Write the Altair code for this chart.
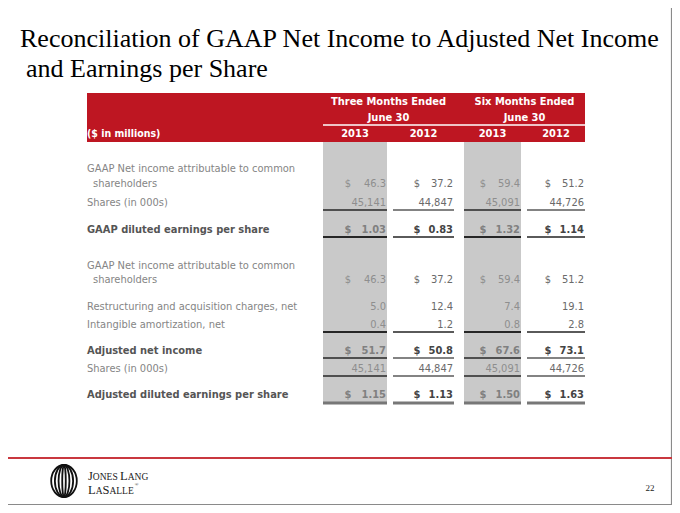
import altair as alt
import pandas as pd

# ------------------------------------------------------------------ data
title_lines = ["Reconciliation of GAAP Net Income to Adjusted Net Income",
               "and Earnings per Share"]
period_groups = ["Three Months Ended", "Six Months Ended"]
period_sub = "June 30"
years = ["2013", "2012", "2013", "2012"]
unit_label = "($ in millions)"

label_lines = [
    "GAAP Net income attributable to common", "shareholders",
    "Shares (in 000s)",
    "GAAP diluted earnings per share",
    "GAAP Net income attributable to common", "shareholders",
    "Restructuring and acquisition charges, net",
    "Intangible amortization, net",
    "Adjusted net income",
    "Shares (in 000s)",
    "Adjusted diluted earnings per share",
]
label_bold = [False, False, False, True, False, False, False, False, True, False, True]

three_2013 = [46.3, 45141, 1.03, 46.3, 5.0, 0.4, 51.7, 45141, 1.15]
three_2012 = [37.2, 44847, 0.83, 37.2, 12.4, 1.2, 50.8, 44847, 1.13]
six_2013 = [59.4, 45091, 1.32, 59.4, 7.4, 0.8, 67.6, 45091, 1.50]
six_2012 = [51.2, 44726, 1.14, 51.2, 19.1, 2.8, 73.1, 44726, 1.63]
row_kind = ["money", "shares", "eps", "money", "plain", "plain", "money", "shares", "eps"]
row_bold = [False, False, True, False, False, False, True, False, True]

# logo words in small caps: (segment, is_capital)
logo_line1 = [("J", True), ("ONES", False), (" ", False), ("L", True), ("ANG", False)]
logo_line2 = [("L", True), ("A", False), ("S", True), ("ALLE", False)]
logo_mark = "\u00ae"
page_number = "22"

# ------------------------------------------------------------------ layout
W, H = 664, 497
X0, Y0 = 8, 8
xs = alt.Scale(domain=[X0, X0 + W], nice=False, zero=False)
ys = alt.Scale(domain=[Y0 + H, Y0], nice=False, zero=False)

SANS = "DejaVu Sans Condensed, Liberation Sans, sans-serif"
SERIF = "Liberation Serif, Times New Roman, serif"
RED = "#BE1622"
GRAY_COL = "#C9C9C9"
FS = 11

label_x = [87, 93, 87, 87, 87, 93, 87, 87, 87, 87, 87]
label_y = [169, 184, 203, 230, 266, 280, 307, 325, 351, 369, 395]
value_y = [184, 203, 230, 280, 307, 325, 351, 369, 395]
col_left = [323, 393, 464, 527]
col_right = [387, 454, 521, 585]
col_dollar = [348, 417, 483, 548]
col_shaded = [True, False, True, False]
underline_y = [210, 237, 332, 358, 376]
underline_w = [1.5, 2.0, 2.0, 1.5, 1.5]
final_line_y = 403

# Times-like advance widths (per em) for the logo's small caps
SERIF_W = {"J": 0.389, "O": 0.722, "N": 0.722, "E": 0.611, "S": 0.556, " ": 0.25,
           "L": 0.611, "A": 0.722, "G": 0.722}
CAP_FS, SC_FS = 12.5, 9.5


def X(f="x"):
    return alt.X(f"{f}:Q", scale=xs, axis=None)


def Y(f="y"):
    return alt.Y(f"{f}:Q", scale=ys, axis=None)


def texts(rows, align="left", weight="normal", size=FS, font=SANS, baseline="middle"):
    df = pd.DataFrame(rows, columns=["x", "y", "t", "c"])
    return alt.Chart(df).mark_text(
        align=align, baseline=baseline, fontWeight=weight, fontSize=size, font=font
    ).encode(x=X(), y=Y(), text="t:N", color=alt.Color("c:N", scale=None))


def rects(rows):
    df = pd.DataFrame(rows, columns=["x", "x2", "y", "y2", "c"])
    return alt.Chart(df).mark_rect().encode(
        x=X(), x2="x2:Q", y=Y(), y2="y2:Q", color=alt.Color("c:N", scale=None))


def hrules(rows, width):
    df = pd.DataFrame(rows, columns=["x", "x2", "y", "c"])
    return alt.Chart(df).mark_rule(strokeWidth=width).encode(
        x=X(), x2="x2:Q", y=Y(), color=alt.Color("c:N", scale=None))


def vrules(rows, width):
    df = pd.DataFrame(rows, columns=["x", "y", "y2", "c"])
    return alt.Chart(df).mark_rule(strokeWidth=width).encode(
        x=X(), y=Y(), y2="y2:Q", color=alt.Color("c:N", scale=None))


layers = []

# slide frame (right & bottom visible inside page)
layers.append(vrules([[671.5, 5, 505, "#8a8a8a"]], 1.2))
layers.append(hrules([[6, 672, 504.5, "#8a8a8a"]], 1.2))

# title
layers.append(texts([[20, 47, title_lines[0], "#000000"],
                     [26, 77, title_lines[1], "#000000"]],
                    size=26, font=SERIF, baseline="alphabetic"))

# header band
layers.append(rects([[87, 585, 93, 142, RED]]))
layers.append(rects([[col_left[i], col_right[i], 142, 404, GRAY_COL]
                     for i in range(4) if col_shaded[i]]))
layers.append(hrules([[323, 585, 125, "#ffffff"]], 1.5))
grp_centers = [(col_left[0] + col_right[1]) / 2, (col_left[2] + col_right[3]) / 2]
head = []
for g, cx in zip(period_groups, grp_centers):
    head.append([cx, 102, g, "#ffffff"])
    head.append([cx, 118, period_sub, "#ffffff"])
for i, yr in enumerate(years):
    head.append([(col_left[i] + col_right[i]) / 2, 134, yr, "#ffffff"])
layers.append(texts(head, align="center", weight="bold", size=11))
layers.append(texts([[87, 134, unit_label, "#ffffff"]], weight="bold", size=10.5))

# row labels
lab_n, lab_b = [], []
for x, y, t, b in zip(label_x, label_y, label_lines, label_bold):
    (lab_b if b else lab_n).append([x, y, t, "#555555" if b else "#858585"])
layers.append(texts(lab_n))
layers.append(texts(lab_b, weight="bold"))

# values
series = [three_2013, three_2012, six_2013, six_2012]
num_n, num_b, dol_n, dol_b = [], [], [], []
for r, (kind, bold, y) in enumerate(zip(row_kind, row_bold, value_y)):
    for c, s in enumerate(series):
        v = s[r]
        if kind == "shares":
            txt = f"{int(v):,}"
        elif kind == "eps":
            txt = f"{v:.2f}"
        else:
            txt = f"{v:.1f}"
        if col_shaded[c]:
            col = "#8e8e8e" if not bold else "#808080"
        else:
            col = "#6a6a6a" if not bold else "#444444"
        (num_b if bold else num_n).append([col_right[c] - 1, y, txt, col])
        if kind in ("money", "eps"):
            (dol_b if bold else dol_n).append([col_dollar[c], y, "$", col])
layers.append(texts(num_n, align="right"))
layers.append(texts(num_b, align="right", weight="bold"))
layers.append(texts(dol_n, align="center"))
layers.append(texts(dol_b, align="center", weight="bold"))

# underlines
for uy, uw in zip(underline_y, underline_w):
    layers.append(hrules([[col_left[c], col_right[c], uy,
                           "#262626" if col_shaded[c] else "#5a5a5a"] for c in range(4)], uw))
layers.append(hrules([[col_left[c], col_right[c], final_line_y, "#777777"] for c in range(4)], 3))

# footer
layers.append(hrules([[6, 672, 458, "#C9383F"]], 2))
ring_rx = [0.8, 0.57, 0.34, 0.11]
for rx in ring_rx:
    path = f"M0,-1A{rx},1 0 1,1 0,1A{rx},1 0 1,1 0,-1Z"
    layers.append(alt.Chart(pd.DataFrame({"x": [64], "y": [481]})).mark_point(
        shape=path, filled=False, size=1024, strokeWidth=1.8, color="#111111", opacity=1
    ).encode(x=X(), y=Y()))

caps_rows, small_rows = [], []
end_x = 88
for segs, base in [(logo_line1, 479.5), (logo_line2, 493.5)]:
    x = 88
    for seg, is_cap in segs:
        fs = CAP_FS if is_cap else SC_FS
        if seg.strip():
            (caps_rows if is_cap else small_rows).append([x, base, seg, "#222222"])
        x += sum(SERIF_W[ch] for ch in seg) * fs
    end_x = x
layers.append(texts(caps_rows, size=CAP_FS, font=SERIF, baseline="alphabetic"))
layers.append(texts(small_rows, size=SC_FS, font=SERIF, baseline="alphabetic"))
layers.append(texts([[end_x + 1, 486, logo_mark, "#222222"]], size=5, font=SERIF, baseline="alphabetic"))
layers.append(texts([[650, 488, page_number, "#222222"]], align="center", size=9, font=SERIF))

chart = alt.layer(*layers).properties(
    width=W, height=H, autosize=alt.AutoSizeParams(type="none"), padding=0,
    background="#ffffff"
).configure_view(stroke=None)

chart.save("out.html", embed_options={"renderer": "svg", "actions": False})
